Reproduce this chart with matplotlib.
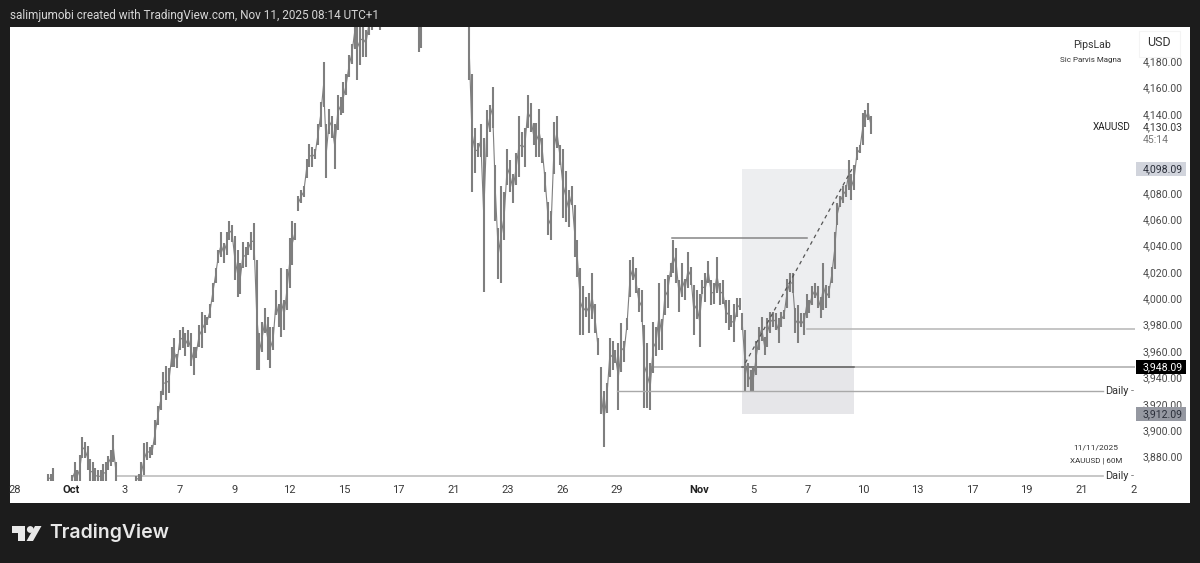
import numpy as np
import matplotlib
matplotlib.use("Agg")
import matplotlib.pyplot as plt
from matplotlib.patches import Rectangle, Polygon, Ellipse

plt.rcParams['font.family'] = ['Roboto', 'DejaVu Sans']

# (high, low); x axis counts trading days from Oct 1
seg_a = [(3867,3860),(3867,3860),(3871,3860)]
seg_b = [(3866,3860),(3876,3860),(3870,3860),(3881,3860),(3895,3879),(3891,3879),(3888,3870),(3878,3860),
         (3876,3860),(3871,3860),(3870,3860),(3870,3860),(3874,3860),(3876,3860),(3880,3870),(3885,3873),
         (3896,3876),(3876,3860)]
seg_c = [(3865,3860),(3867,3860),(3876,3860),(3890,3866),(3891,3877),(3887,3879),(3889,3881),(3908,3889),
         (3918,3904),(3930,3915),(3944,3927),(3949,3923),(3947,3928),(3963,3948),(3970,3948),(3958,3947),
         (3976,3961),(3978,3962),(3974,3956),(3976,3963),(3974,3949),(3963,3942),(3963,3955),(3980,3963),
         (3990,3962),(3987,3974),(3986,3980),(3996,3985),(4012,3997),(4023,4012),(4037,4027),(4050,4031),
         (4042,4027),(4050,4033),(4059,4044),(4056,4043),(4047,4014),(4037,4001),(4027,4003),(4043,4023),
         (4039,4024),(4043,4033),(4050,4037),(4057,4029),(4029,3946),(3974,3946),(3982,3959),(3993,3974),
         (3986,3953),(3978,3947),(3978,3961),(4006,3987),(3996,3978),(4023,3971),(3999,3976),(4022,3991),
         (4046,4008),(4059,4025),(4057,4044)]
seg_d = [(4078,4066),(4082,4072),(4085,4077),(4106,4091),(4117,4100),(4115,4100),(4113,4106),(4132,4116),
         (4149,4130),(4179,4145),(4132,4091),(4144,4125),(4138,4122),(4132,4098),(4154,4128),(4153,4139),
         (4164,4141),(4170,4154),(4185,4168),(4193,4178),(4215,4189),(4215,4166),(4215,4177),(4211,4183),
         (4204,4183),(4215,4200),(4215,4204),(4225,4210),(4225,4210),(4215,4204)]
seg_e = [(4215,4187),(4215,4190)]
seg_f = [(4215,4166),(4170,4081),(4129,4095),(4118,4107),(4132,4107),(4122,4005),(4143,4107),(4147,4126),
         (4160,4129),(4101,4059),(4053,4015),(4085,4012),(4081,4044),(4113,4086),(4105,4081),(4094,4072),
         (4110,4086),(4138,4092),(4126,4107),(4129,4100),(4154,4129),(4148,4126),(4133,4116),(4133,4107),
         (4144,4107),(4122,4103),(4096,4081),(4073,4048),(4066,4044),(4134,4094),(4138,4114),(4116,4101),
         (4113,4061),(4097,4058),(4082,4054),(4085,4071),(4071,4031),(4044,4016),(4023,3972),(4009,3972),
         (4001,3986),(4004,3974),(4019,3984),(3996,3974),(3970,3957)]
seg_g = [(3948,3912),(3930,3887),(3936,3913),(3970,3940),(3968,3946),(3961,3951),(3966,3915),(3981,3944),
         (3968,3952),(3985,3976),(4029,4001),(4031,4014),(4023,4004),(4008,3990),(4006,3982),(3980,3917),
         (3966,3917),(3951,3915),(3982,3943),(3978,3956),(4012,3961),(3984,3961),(4015,3987),(4018,3993),
         (4027,4016),(4044,4019),(4038,4012),(4014,3990),(4027,4001),(4015,3999),(4035,4008),(4024,4010),
         (4010,3972),(4006,3984),(4003,3963),(4014,4003),(4019,3997),(4028,4012),(4014,3995),(4012,3996),
         (4031,4004),(4012,3995),(4014,3996),(3999,3981),(3999,3976),(3987,3978),(3996,3967),(4000,3986),
         (4000,3991)]
seg_h = [(3989,3976),(3976,3929),(3951,3933),(3946,3930),(3948,3930),(3968,3942),(3978,3961),(3986,3968),
         (3971,3957),(3985,3963),(3990,3974),(3990,3978),(3989,3976),(3985,3966),(3990,3978),(3991,3984),
         (4015,3993),(4019,4005),(4019,4004),(3993,3974),(3995,3966),(3989,3978),(3989,3972),(4003,3985),
         (3999,3989),(4009,3995),(4012,4000),(4009,3993),(4001,3985),(4027,3991),(4010,3993),(4009,4000),
         (4024,4012),(4050,4022),(4072,4056),(4078,4069),(4085,4072),(4086,4077),(4105,4082),(4094,4075),
         (4101,4082),(4115,4105),(4116,4110),(4141,4116),(4143,4130),(4148,4135),(4138,4125)]
segments = [(-0.84,-0.66,seg_a),(0.04,1.65,seg_b),(2.38,8.21,seg_c),(8.32,11.32,seg_d),(12.75,12.82,seg_e),
            (14.58,19.30,seg_f),(19.41,24.51,seg_g),(24.58,29.30,seg_h)]

price_ticks = [p for p in range(3880, 4200, 20) if p not in (4100, 4120)]
day_ticks = [-2.05,0,1.98,3.99,6,7.99,10,12,14,16,18,20,23,25,27,29,31,33,35,37,38.9]
day_labels = ['28','Oct','3','7','9','12','15','17','21','23','26','29','Nov','5','7','10','13','17','19','21','2']

W, H = 1200, 563
BG = '#1c1c1c'
fig = plt.figure(figsize=(12, 5.63), dpi=100, facecolor=BG)
fig.patches.append(Rectangle((10/W, 1-503/H), 1180/W, 476/H, transform=fig.transFigure, fc='white', ec='none', zorder=-5))
ax = fig.add_axes([10/W, 1-481/H, 1125/W, 454/H], facecolor='white')
ax.set_xlim(-2.234, 38.97)
ax.set_ylim(3861.4, 4205.9)
for s in ax.spines.values():
    s.set_visible(False)

ax.add_patch(Rectangle((24.58, 3948.09), 4.03, 150, fc='#edeef0', ec='none', zorder=1))
ax.add_patch(Rectangle((24.58, 3912.09), 4.10, 36, fc='#e6e6e9', ec='none', zorder=1))

for d0, d1, seg in segments:
    arr = np.array(seg, dtype=float)
    t = np.linspace(d0, d1, len(arr))
    ax.vlines(t, arr[:, 1], arr[:, 0], color='#7f7f7f', lw=1.5, zorder=3)
    ax.plot(t, (arr[:, 0] + arr[:, 1]) / 2, color='#7f7f7f', lw=0.8, zorder=3)

ln = '#a9a9a9'
ax.plot([22.0, 26.96], [4046, 4046], color='#858585', lw=1.1, zorder=4)
ax.plot([26.96, 38.97], [3977, 3977], color='#b5b5b5', lw=1.1, zorder=4)
ax.plot([21.2, 38.97], [3948.09, 3948.09], color=ln, lw=1.1, zorder=2)
ax.plot([24.58, 28.68], [3948.09, 3948.09], color='#666666', lw=1.1, zorder=2)
ax.plot([20.0, 37.8], [3930, 3930], color=ln, lw=1.0, zorder=4)
ax.plot([1.68, 37.8], [3865, 3865], color='#bdbdbd', lw=1.2, zorder=2)
ax.plot([24.7, 28.6], [3951, 4098], color='#555555', lw=0.9, ls=(0, (3, 3)), zorder=4)

FS = 7.6
ax.yaxis.tick_right()
ax.set_yticks(price_ticks)
ax.set_yticklabels([f'{p:,.2f}' for p in price_ticks], fontsize=FS, color='#4a4a4a')
ax.set_xticks(day_ticks)
ax.set_xticklabels(day_labels, fontsize=8, color='#3a3a3a')
ax.tick_params(axis='both', length=0)
ax.tick_params(axis='y', pad=5.6)
ax.tick_params(axis='x', pad=3.2)
for lab, txt in zip(ax.get_xticklabels(), day_labels):
    if txt in ('Oct', 'Nov'):
        lab.set_fontweight('bold')
        lab.set_color('#222222')

ty = ax.get_yaxis_transform()
def price_box(price, fc, tc, label):
    ax.add_patch(Rectangle((1 + 1/1125, price - 5.4), 50/1125, 10.8, transform=ty, fc=fc, ec='none', zorder=10, clip_on=False))
    ax.text(1 + 8/1125, price, label, transform=ty, color=tc, fontsize=FS, va='center', ha='left', zorder=11, clip_on=False)
price_box(4098.09, '#d1d4dc', '#2a2e39', '4,098.09')
price_box(3948.09, '#000000', '#ffffff', '3,948.09')
price_box(3912.09, '#9598a1', '#2a2e39', '3,912.09')
ax.text(1 + 8/1125, 4130.03, '4,130.03', transform=ty, color='#3a3a3a', fontsize=FS, va='center', zorder=11)
ax.text(1 + 8/1125, 4120.5, '45:14', transform=ty, color='#777777', fontsize=FS, va='center', zorder=11)
ax.text(1 - 4/1125, 4130, 'XAUUSD', transform=ty, color='#222222', fontsize=7.2, va='center', ha='right', zorder=11)
for level in (3930, 3865.5):
    ax.text(1 - 6/1125, level, 'Daily', transform=ty, color='#333333', fontsize=7.8, va='center', ha='right', zorder=11)
    ax.text(1 - 1/1125, level, '-', transform=ty, color='#777777', fontsize=7.8, va='center', ha='right', zorder=11)

def ftext(x, y, s, **kw):
    fig.text(x/W, 1 - y/H, s, va='center', **kw)
fig.patches.append(Rectangle((1139/W, 1-57/H), 41/W, 26/H, transform=fig.transFigure, fc='white', ec='#f4f4f4', lw=0.8, zorder=20))
ftext(1159, 43, 'USD', ha='center', fontsize=9, color='#333333', zorder=21)
ftext(1092, 45, 'PipsLab', ha='center', fontsize=7.6, color='#333333')
ftext(1091, 60, 'Sic Parvis Magna', ha='center', fontsize=5.8, color='#333333')
ftext(1096, 448, '11/11/2025', ha='center', fontsize=6, color='#333333')
ftext(1096, 461, 'XAUUSD | 60M', ha='center', fontsize=5.8, color='#333333')
ftext(10, 15, 'salimjumobi created with TradingView.com, Nov 11, 2025 08:14 UTC+1', ha='left', fontsize=8.45, color='#d6d6d6')

# logo
def poly(pts):
    fig.patches.append(Polygon([(x/W, 1-y/H) for x, y in pts], closed=True, transform=fig.transFigure, fc='#e8e8e8', ec='none'))
poly([(12,526),(25,526),(25,541),(18,541),(18,533),(12,533)])
poly([(35,526),(41.5,526),(33,541),(26.5,541)])
fig.patches.append(Ellipse((30.3/W, 1-529.5/H), 6.8/W, 6.8/H, transform=fig.transFigure, fc='#e8e8e8', ec='none'))
ftext(49, 533, 'TradingView', ha='left', fontsize=14, color='#e8e8e8', fontweight='semibold', family=['Inter', 'DejaVu Sans'])

fig.savefig('out.png', dpi=100, facecolor=BG)
